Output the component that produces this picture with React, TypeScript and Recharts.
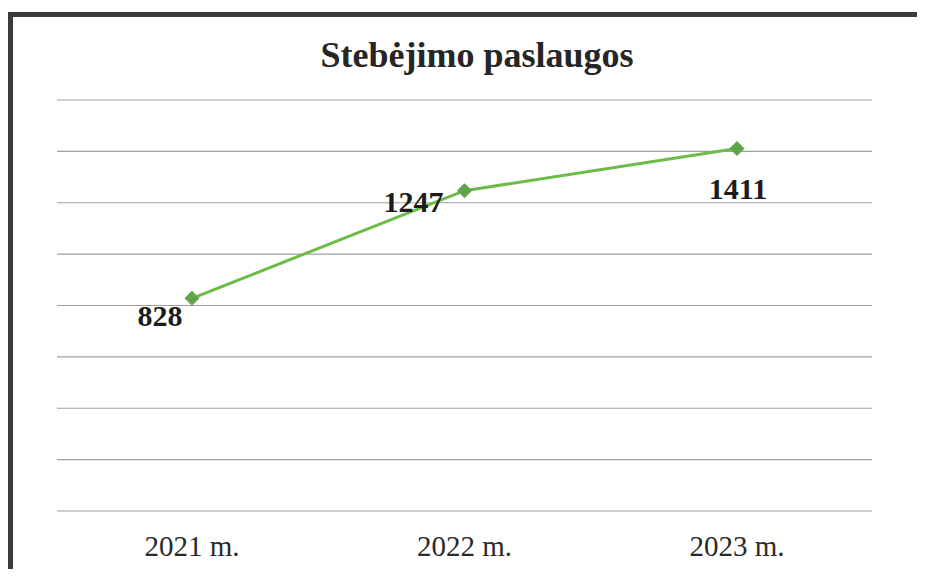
import React from 'react';
import { LineChart, Line, XAxis, YAxis, CartesianGrid, LabelList } from 'recharts';

// Data
const YEARS = ['2021 m.', '2022 m.', '2023 m.'];
const VALUES = [828, 1247, 1411];
const Y_TICKS = [0, 200, 400, 600, 800, 1000, 1200, 1400, 1600];

const TITLE = 'Stebėjimo paslaugos';

const rows = YEARS.map((year, i) => ({ year, value: VALUES[i] }));

// label placement relative to each point (dx, dy of baseline)
const LABEL_SHIFT: [number, number][] = [
  [-32, 28],
  [-51, 21],
  [1, 50],
];

const SERIF = '"Liberation Serif", "Times New Roman", serif';

function Diamond(props: any) {
  const { cx, cy, index } = props;
  if (cx == null || cy == null) return null;
  const r = 7;
  return (
    <polygon
      key={`d-${index}`}
      points={`${cx},${cy - r} ${cx + r},${cy} ${cx},${cy + r} ${cx - r},${cy}`}
      fill="#5fa44a"
      stroke="#5fa44a"
      strokeWidth={1}
    />
  );
}

function ValueLabel(props: any) {
  const { x, y, value, index } = props;
  const [dx, dy] = LABEL_SHIFT[index] ?? [0, -10];
  return (
    <text
      x={Number(x) + dx}
      y={Number(y) + dy}
      textAnchor="middle"
      fontFamily={SERIF}
      fontWeight="bold"
      fontSize={30}
      fill="#1c1c1c"
    >
      {value}
    </text>
  );
}

export default function App() {
  return (
    <div style={{ position: 'relative', width: 925, height: 577, margin: -8, background: '#fff', overflow: 'hidden' }}>
      {/* scanned frame */}
      <div
        style={{
          position: 'absolute',
          left: 8,
          top: 12,
          width: 940,
          height: 600,
          borderLeft: '5px solid #3b3d3d',
          borderTop: '5px solid #3b3d3d',
        }}
      />
      <svg width={925} height={577} style={{ position: 'absolute', left: 0, top: 0 }}>
        <text
          x={477}
          y={67}
          textAnchor="middle"
          fontFamily={SERIF}
          fontWeight="bold"
          fontSize={36}
          fill="#262626"
        >
          {TITLE}
        </text>
      </svg>
      <div style={{ position: 'absolute', left: 0, top: 0 }}>
        <LineChart
          width={925}
          height={577}
          data={rows}
          margin={{ top: 100, right: 53, left: 57, bottom: 0 }}
        >
          <CartesianGrid vertical={false} stroke="#a0a0a0" strokeWidth={1.2} />
          <XAxis
            dataKey="year"
            axisLine={false}
            tickLine={false}
            height={66}
            tickMargin={18}
            padding={{ left: 135, right: 135 }}
            tick={{ fill: '#2a2a2a', fontSize: 29, fontFamily: SERIF }}
            interval={0}
          />
          <YAxis hide domain={[0, 1600]} ticks={Y_TICKS} />
          <Line
            type="linear"
            dataKey="value"
            stroke="#6dbb48"
            strokeWidth={3}
            dot={Diamond}
            activeDot={false}
            isAnimationActive={false}
          >
            <LabelList dataKey="value" content={ValueLabel} />
          </Line>
        </LineChart>
      </div>
    </div>
  );
}
